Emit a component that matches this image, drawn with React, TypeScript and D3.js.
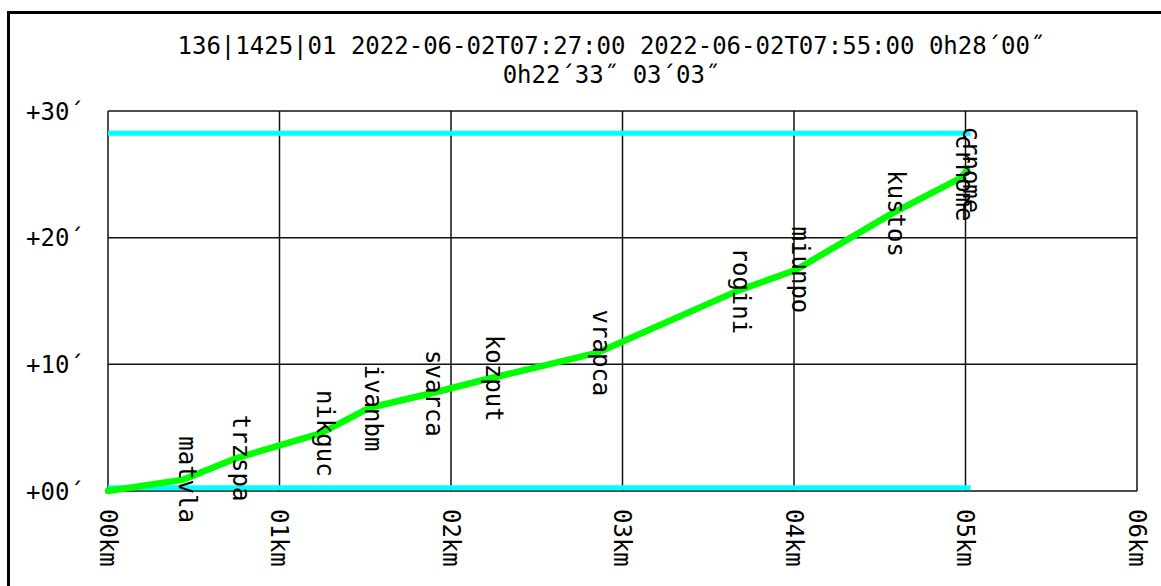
import React from "react";
import * as d3 from "d3";

const titleLines = [
  "136|1425|01 2022-06-02T07:27:00 2022-06-02T07:55:00 0h28\u00B400\u02DD",
  "0h22\u00B433\u02DD 03\u00B403\u02DD",
];

const xTicks = [0, 1, 2, 3, 4, 5, 6];
const xTickLabels = ["00km", "01km", "02km", "03km", "04km", "05km", "06km"];
const yTicks = [0, 10, 20, 30];
const yTickLabels = ["+00\u00B4", "+10\u00B4", "+20\u00B4", "+30\u00B4"];

const stations = ["", "matvla", "trzspa", "nikguc", "ivanbm", "svarca", "kozput", "vrapca", "rogini", "miunpo", "kustos", "crnome", "crnome"];
const stationKm = [0, 0.44, 0.75, 1.24, 1.52, 1.88, 2.23, 2.85, 3.67, 4.01, 4.57, 4.97, 5.01];
const stationMin = [0, 0.9, 2.6, 4.55, 6.55, 7.7, 8.9, 10.9, 15.8, 17.45, 21.9, 24.7, 25.35];

const windowKm = [0, 5.03];
const windowMin = [0.25, 28.25];

const FONT = "'DejaVu Sans Mono', monospace";

export default function App() {
  const x = d3.scaleLinear().domain([0, 6]).range([108, 1137]);
  const y = d3.scaleLinear().domain([0, 30]).range([491, 111]);
  const pts = stationKm.map((k, i) => [k, stationMin[i]] as [number, number]);
  const line = d3
    .line<[number, number]>()
    .x((d) => x(d[0]))
    .y((d) => y(d[1]));

  return (
    <svg
      width={1161}
      height={586}
      style={{ position: "absolute", left: 0, top: 0, background: "#fff" }}
      fontFamily={FONT}
    >
      <rect x={8.5} y={12.5} width={1300} height={700} fill="#fff" stroke="#000" strokeWidth={3} />
      {titleLines.map((t, i) => (
        <text key={i} x={611} y={53.5 + i * 29} fontSize={24} textAnchor="middle" fill="#000">
          {t}
        </text>
      ))}
      {/* grid */}
      {xTicks.map((t) => (
        <line key={"gx" + t} x1={x(t)} x2={x(t)} y1={y(0)} y2={y(30)} stroke="#111" strokeWidth={1.5} />
      ))}
      {yTicks.map((t) => (
        <line key={"gy" + t} x1={x(0)} x2={x(6)} y1={y(t)} y2={y(t)} stroke="#111" strokeWidth={1.5} />
      ))}
      {/* window lines */}
      {windowMin.map((m, i) => (
        <line key={"w" + i} x1={x(windowKm[0])} x2={x(windowKm[1])} y1={y(m)} y2={y(m)} stroke="#00ffff" strokeWidth={5} />
      ))}
      <path d={line(pts) || ""} fill="none" stroke="#00ff00" strokeWidth={6.5} strokeLinejoin="round" strokeLinecap="round" />
      {/* station labels */}
      {pts.map((p, i) =>
        stations[i] ? (
          <text
            key={"s" + i}
            transform={`translate(${x(p[0])},${y(p[1])}) rotate(90)`}
            y={4}
            fontSize={24}
            textAnchor="middle"
            fill="#000"
          >
            {stations[i]}
          </text>
        ) : null
      )}
      {/* y tick labels */}
      {yTicks.map((t, i) => (
        <text key={"yl" + t} x={26} y={y(t) + 8.5} fontSize={24} fill="#000">
          {yTickLabels[i]}
        </text>
      ))}
      {/* x tick labels */}
      {xTicks.map((t, i) => (
        <text
          key={"xl" + t}
          transform={`translate(${x(t)},${509}) rotate(90)`}
          y={8.5}
          fontSize={24}
          fill="#000"
        >
          {xTickLabels[i]}
        </text>
      ))}
    </svg>
  );
}
